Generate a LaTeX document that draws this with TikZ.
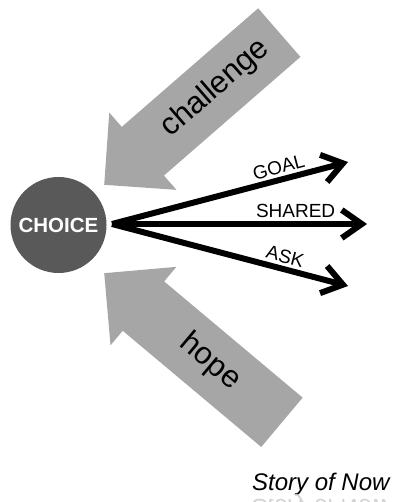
\documentclass[tikz,border=0pt]{standalone}
\usepackage{fontspec}
\setmainfont{Liberation Sans}
\usetikzlibrary{arrows.meta,shapes.arrows}

\definecolor{choicegray}{HTML}{595959}
\definecolor{pushgray}{HTML}{A6A6A6}

\tikzstyle{choice} = [circle,fill=choicegray,text=white,minimum size=96pt,inner sep=0pt,font=\fontsize{20.5}{24}\selectfont\bfseries]
\tikzstyle{push} = [single arrow,fill=pushgray,shape border rotate=180,single arrow head extend=19pt,minimum height=232pt,inner xsep=0pt,inner ysep=18pt,text height=22pt,text depth=6pt,font=\fontsize{31}{36}\selectfont,anchor=tip]
\tikzstyle{target} = [line width=6pt,-{Straight Barb[length=20pt,width=28pt]}]
\tikzstyle{tag} = [above,sloped,pos=0.72,inner sep=3pt,font=\fontsize{19}{22}\selectfont]

\begin{document}
\begin{tikzpicture}[x=1pt,y=-1pt]

	\useasboundingbox (0,0) rectangle (396,502);
	\clip (0,0) rectangle (396,502);

	\node (challenge) [push,rotate=41] at (104,185) {\hspace*{30pt}challenge};
	\node (hope) [push,rotate=-40] at (104,273) {\hspace*{12pt}hope};

	\node (choice) [choice] at (58.5,225) {CHOICE};

	\coordinate (hub) at (112,224);
	\coordinate (goal) at (348,162);
	\coordinate (shared) at (367,224);
	\coordinate (ask) at (348,286);

	\path[target]
		(hub) edge node[tag]{GOAL} (goal)
		(hub) edge node[tag]{SHARED} (shared)
		(hub) edge node[tag]{ASK} (ask)
		;

	\node (story) [anchor=base east,font=\fontsize{24}{27}\selectfont\itshape] at (393,490) {Story of Now};
	\node (mirror) [anchor=base east,yscale=-1,text=gray!35,font=\fontsize{24}{27}\selectfont\itshape] at (393,499) {Story of Now};

\end{tikzpicture}
\end{document}
